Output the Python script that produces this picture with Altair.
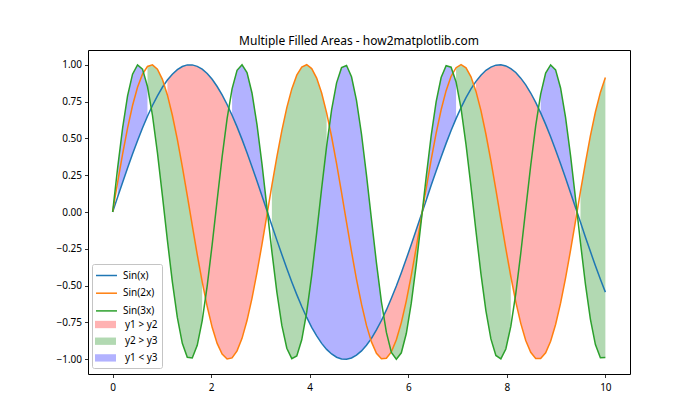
import altair as alt
import pandas as pd

# ---- data (100 samples over 0..10) ----
x = [0.000, 0.101, 0.202, 0.303, 0.404, 0.505, 0.606, 0.707, 0.808, 0.909,
     1.010, 1.111, 1.212, 1.313, 1.414, 1.515, 1.616, 1.717, 1.818, 1.919,
     2.020, 2.121, 2.222, 2.323, 2.424, 2.525, 2.626, 2.727, 2.828, 2.929,
     3.030, 3.131, 3.232, 3.333, 3.434, 3.535, 3.636, 3.737, 3.838, 3.939,
     4.040, 4.141, 4.242, 4.343, 4.444, 4.545, 4.646, 4.747, 4.848, 4.949,
     5.051, 5.152, 5.253, 5.354, 5.455, 5.556, 5.657, 5.758, 5.859, 5.960,
     6.061, 6.162, 6.263, 6.364, 6.465, 6.566, 6.667, 6.768, 6.869, 6.970,
     7.071, 7.172, 7.273, 7.374, 7.475, 7.576, 7.677, 7.778, 7.879, 7.980,
     8.081, 8.182, 8.283, 8.384, 8.485, 8.586, 8.687, 8.788, 8.889, 8.990,
     9.091, 9.192, 9.293, 9.394, 9.495, 9.596, 9.697, 9.798, 9.899, 10.000]

y1 = [0.000, 0.101, 0.201, 0.298, 0.393, 0.484, 0.570, 0.650, 0.723, 0.789,
      0.847, 0.896, 0.936, 0.967, 0.988, 0.999, 0.999, 0.989, 0.970, 0.940,
      0.901, 0.852, 0.795, 0.730, 0.657, 0.578, 0.493, 0.403, 0.308, 0.211,
      0.111, 0.010, -0.091, -0.191, -0.289, -0.384, -0.475, -0.561, -0.642, -0.716,
      -0.783, -0.841, -0.892, -0.933, -0.964, -0.986, -0.998, -0.999, -0.991, -0.972,
      -0.943, -0.905, -0.858, -0.801, -0.737, -0.665, -0.586, -0.502, -0.412, -0.318,
      -0.221, -0.121, -0.021, 0.080, 0.181, 0.279, 0.374, 0.466, 0.553, 0.634,
      0.709, 0.776, 0.836, 0.887, 0.929, 0.962, 0.984, 0.997, 1.000, 0.992,
      0.974, 0.947, 0.909, 0.863, 0.808, 0.744, 0.673, 0.595, 0.511, 0.421,
      0.328, 0.231, 0.131, 0.031, -0.070, -0.171, -0.269, -0.365, -0.457, -0.544]

y2 = [0.000, 0.201, 0.393, 0.570, 0.723, 0.847, 0.936, 0.988, 0.999, 0.970,
      0.901, 0.795, 0.657, 0.493, 0.308, 0.111, -0.091, -0.289, -0.475, -0.642,
      -0.783, -0.892, -0.964, -0.998, -0.991, -0.943, -0.858, -0.737, -0.586, -0.412,
      -0.221, -0.021, 0.181, 0.374, 0.553, 0.709, 0.836, 0.929, 0.984, 1.000,
      0.974, 0.909, 0.808, 0.673, 0.511, 0.328, 0.131, -0.070, -0.269, -0.457,
      -0.626, -0.770, -0.882, -0.959, -0.996, -0.993, -0.950, -0.868, -0.751, -0.603,
      -0.431, -0.241, -0.041, 0.160, 0.355, 0.535, 0.694, 0.824, 0.921, 0.980,
      1.000, 0.979, 0.918, 0.819, 0.688, 0.528, 0.347, 0.152, -0.050, -0.249,
      -0.438, -0.610, -0.756, -0.872, -0.953, -0.994, -0.995, -0.956, -0.878, -0.764,
      -0.619, -0.449, -0.261, -0.062, 0.140, 0.336, 0.518, 0.679, 0.812, 0.913]

y3 = [0.000, 0.298, 0.570, 0.789, 0.936, 0.999, 0.970, 0.852, 0.657, 0.403,
      0.111, -0.191, -0.475, -0.716, -0.892, -0.986, -0.991, -0.905, -0.737, -0.502,
      -0.221, 0.080, 0.374, 0.634, 0.836, 0.962, 1.000, 0.947, 0.808, 0.595,
      0.328, 0.031, -0.269, -0.544, -0.770, -0.925, -0.996, -0.977, -0.868, -0.680,
      -0.431, -0.142, 0.160, 0.447, 0.694, 0.877, 0.980, 0.995, 0.918, 0.758,
      0.528, 0.251, -0.050, -0.345, -0.610, -0.818, -0.953, -1.000, -0.956, -0.825,
      -0.619, -0.357, -0.062, 0.239, 0.518, 0.750, 0.913, 0.993, 0.983, 0.883,
      0.703, 0.458, 0.172, -0.130, -0.420, -0.671, -0.862, -0.974, -0.997, -0.930,
      -0.777, -0.554, -0.280, 0.019, 0.316, 0.585, 0.800, 0.943, 0.999, 0.965,
      0.842, 0.643, 0.385, 0.092, -0.209, -0.491, -0.729, -0.900, -0.989, -0.988]

series_names = ["Sin(x)", "Sin(2x)", "Sin(3x)"]
line_colors = ["#1f77b4", "#ff7f0e", "#2ca02c"]
region_names = ["y1 > y2", "y2 > y3", "y1 < y3"]
region_colors = ["#ff0000", "#008000", "#0000ff"]
x_ticks = [0, 2, 4, 6, 8, 10]
y_ticks = [-1.0, -0.75, -0.5, -0.25, 0.0, 0.25, 0.5, 0.75, 1.0]

# ---- build tables ----
line_rows = []
for name, ys in zip(series_names, [y1, y2, y3]):
    for xi, yi in zip(x, ys):
        line_rows.append({"x": xi, "y": yi, "series": name})
line_df = pd.DataFrame(line_rows)


def runs(cond):
    segs, cur = [], []
    for i, c in enumerate(cond):
        if c:
            cur.append(i)
        elif cur:
            segs.append(cur)
            cur = []
    if cur:
        segs.append(cur)
    return segs


fill_specs = [
    (region_names[0], y1, y2, [a > b for a, b in zip(y1, y2)]),
    (region_names[1], y2, y3, [a > b for a, b in zip(y2, y3)]),
    (region_names[2], y1, y3, [a < b for a, b in zip(y1, y3)]),
]
area_rows = []
for name, ya, yb, cond in fill_specs:
    for si, seg in enumerate(runs(cond)):
        for i in seg:
            area_rows.append({"x": x[i], "lo": ya[i], "hi": yb[i],
                              "region": name, "seg": f"{name}-{si}"})
area_df = pd.DataFrame(area_rows)

FONT = "Noto Sans"
xs = alt.Scale(domain=[-0.5, 10.5], nice=False, zero=False)
ysc = alt.Scale(domain=[-1.1, 1.1], nice=False, zero=False)

x_axis = alt.Axis(values=x_ticks, format="d", title=None, labelPadding=5)
y_axis = alt.Axis(values=y_ticks, format=".2f", title=None, labelPadding=3)

legend_common = dict(title=None, orient="none", legendX=7, symbolSize=440,
                     labelFontSize=10, labelFont=FONT, labelColor="black",
                     rowPadding=0.7, padding=0)

areas = alt.Chart(area_df).mark_area(opacity=0.3).encode(
    x=alt.X("x:Q", scale=xs, axis=x_axis),
    y=alt.Y("lo:Q", scale=ysc, axis=y_axis),
    y2="hi:Q",
    fill=alt.Fill("region:N",
                  scale=alt.Scale(domain=region_names, range=region_colors),
                  legend=alt.Legend(legendY=264, symbolType="M-1,-0.35H1V0.35H-1Z",
                                    symbolOpacity=0.3, symbolStrokeWidth=0,
                                    labelOffset=9, **legend_common)),
    detail="seg:N",
)

lines = alt.Chart(line_df).mark_line(strokeWidth=1.5).encode(
    x=alt.X("x:Q", scale=xs, axis=x_axis),
    y=alt.Y("y:Q", scale=ysc, axis=y_axis),
    color=alt.Color("series:N",
                    scale=alt.Scale(domain=series_names, range=line_colors),
                    legend=alt.Legend(legendY=214, symbolType="M-1,0H1",
                                      symbolStrokeWidth=1.5, labelOffset=5,
                                      **legend_common)),
)

frame = alt.Chart(pd.DataFrame({"k": [0]})).mark_rect(
    fill="white", fillOpacity=0.8, stroke="#c4c4c4", strokeWidth=1, cornerRadius=2
).encode(x=alt.value(4.5), x2=alt.value(74.5), y=alt.value(214.5), y2=alt.value(318.5))

chart = alt.layer(areas, lines, frame).properties(
    width=542, height=324,
    title=alt.TitleParams("Multiple Filled Areas - how2matplotlib.com", fontSize=12,
                          fontWeight="normal", font=FONT, color="black",
                          anchor="middle", offset=2),
    autosize=alt.AutoSizeParams(type="none"),
    padding={"left": 88, "top": 50, "right": 70, "bottom": 46},
).configure_view(stroke="black", strokeWidth=1).configure_axis(
    grid=False, domain=False, ticks=True, tickColor="black", tickSize=3.5, tickWidth=0.8,
    labelFont=FONT, labelFontSize=10, labelColor="black",
)

chart.save("out.html", embed_options={"renderer": "svg", "actions": False})
